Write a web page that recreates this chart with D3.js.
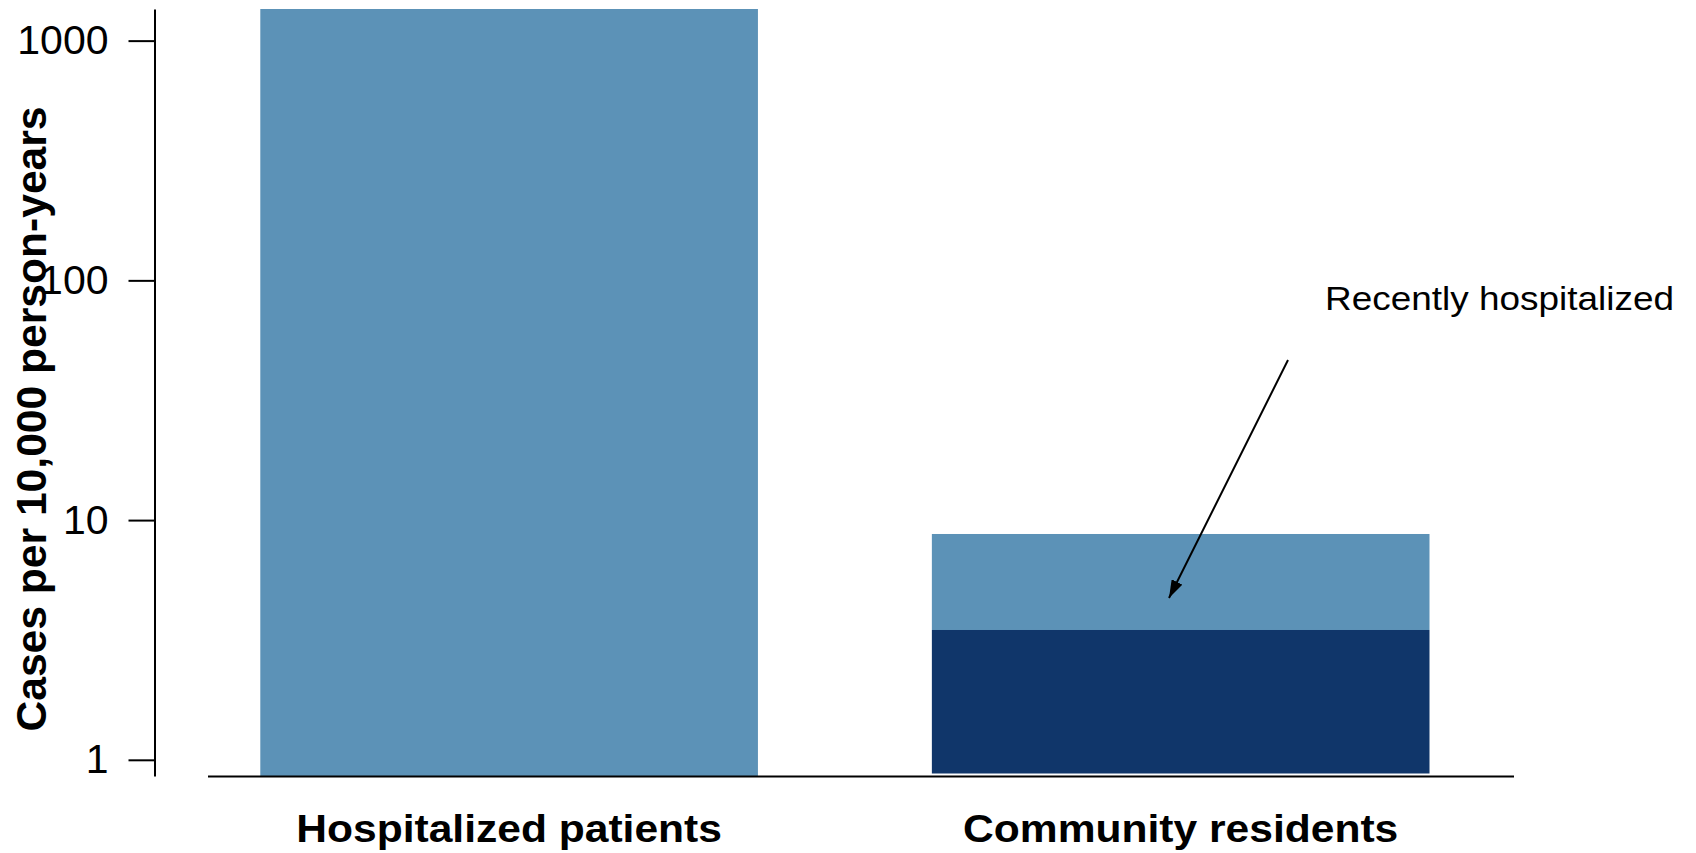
<!DOCTYPE html>
<html>
<head>
<meta charset="utf-8">
<script src="https://cdn.jsdelivr.net/npm/d3@7"></script>
<style>
  html, body { margin: 0; padding: 0; background: #ffffff; }
  svg { display: block; }
  text { font-family: "Liberation Sans", Arial, Helvetica, sans-serif; fill: #000; }
</style>
</head>
<body>
<svg id="chart" width="1696" height="853"></svg>
<script>
// ---- data ----
const categories = ["Hospitalized patients", "Community residents"];
const seriesNames = ["Not recently hospitalized", "Recently hospitalized"];
// lower (dark) segment top, 0 = no dark segment
const lowerValues  = [0, 3.48];
// total bar top (cases per 10,000 person-years)
const totalValues  = [1355, 8.75];
const yTickValues  = [1, 10, 100, 1000];
const yDomain      = [0.856, 1355];
const yTitle = "Cases per 10,000 person-years";
const annotationText = "Recently hospitalized";

// ---- styles ----
const lightColor = "#5c92b7";
const darkColor  = "#10366a";

const svg = d3.select("#chart");

const y = d3.scaleLog().domain(yDomain).range([776, 9]);
const x = d3.scaleBand().domain(categories).range([260.3, 1429.5]).paddingInner(0.259).paddingOuter(0);

const rows = categories.map((c, i) => ({ cat: c, lower: lowerValues[i], total: totalValues[i] }));

// light (upper / single) segments
svg.append("g").selectAll("rect.light").data(rows).join("rect")
  .attr("class", "light")
  .attr("x", d => x(d.cat))
  .attr("width", x.bandwidth())
  .attr("y", d => y(d.total))
  .attr("height", d => (d.lower > 0 ? y(d.lower) : y(yDomain[0])) - y(d.total))
  .attr("fill", lightColor);

// dark lower segments
svg.append("g").selectAll("rect.dark").data(rows.filter(d => d.lower > 0)).join("rect")
  .attr("class", "dark")
  .attr("x", d => x(d.cat))
  .attr("width", x.bandwidth())
  .attr("y", d => y(d.lower))
  .attr("height", d => y(yDomain[0]) - 2.5 - y(d.lower))
  .attr("fill", darkColor);

// y axis
const yAxis = d3.axisLeft(y).tickValues(yTickValues).tickFormat(d3.format("d"))
  .tickSize(26).tickSizeOuter(0).tickPadding(20);
const gy = svg.append("g").attr("transform", "translate(154.5,0)").call(yAxis);
gy.select(".domain").attr("stroke", "#000").attr("stroke-width", 2);
gy.selectAll(".tick line").attr("stroke", "#000").attr("stroke-width", 2);
gy.selectAll(".tick text").attr("font-size", 41).attr("font-family", "Liberation Sans, Arial, sans-serif").attr("fill", "#000");

// x axis baseline
svg.append("line").attr("x1", 208).attr("x2", 1514)
  .attr("y1", 776.5).attr("y2", 776.5).attr("stroke", "#000").attr("stroke-width", 2.2);

// category labels
const stretch = 1.12;
svg.append("g").selectAll("text.cat").data(categories).join("text")
  .attr("class", "cat")
  .attr("x", d => x(d) + x.bandwidth() / 2)
  .attr("y", 841.5)
  .attr("text-anchor", "middle")
  .attr("font-size", 38)
  .attr("font-weight", "bold")
  .text(d => d)
  .each(function() {
    const L = this.getComputedTextLength();
    d3.select(this).attr("textLength", L * stretch).attr("lengthAdjust", "spacingAndGlyphs");
  });

// y title
svg.append("text")
  .attr("transform", "translate(45.5,419) rotate(-90)")
  .attr("text-anchor", "middle")
  .attr("font-size", 42.6)
  .attr("font-weight", "bold")
  .text(yTitle);

// annotation
svg.append("text")
  .attr("x", 1325).attr("y", 309.5)
  .attr("font-size", 33.5)
  .text(annotationText)
  .each(function() {
    const L = this.getComputedTextLength();
    d3.select(this).attr("textLength", 349).attr("lengthAdjust", "spacingAndGlyphs");
  });

// arrow
const defs = svg.append("defs");
defs.append("marker").attr("id", "arrow")
  .attr("viewBox", "0 0 18 12").attr("refX", 18).attr("refY", 6)
  .attr("markerWidth", 18).attr("markerHeight", 12)
  .attr("markerUnits", "userSpaceOnUse").attr("orient", "auto")
  .append("path").attr("d", "M0,0 L18,6 L0,12 Z").attr("fill", "#000");

svg.append("line")
  .attr("x1", 1288).attr("y1", 360)
  .attr("x2", 1169).attr("y2", 598)
  .attr("stroke", "#000").attr("stroke-width", 2)
  .attr("marker-end", "url(#arrow)");
</script>
</body>
</html>
